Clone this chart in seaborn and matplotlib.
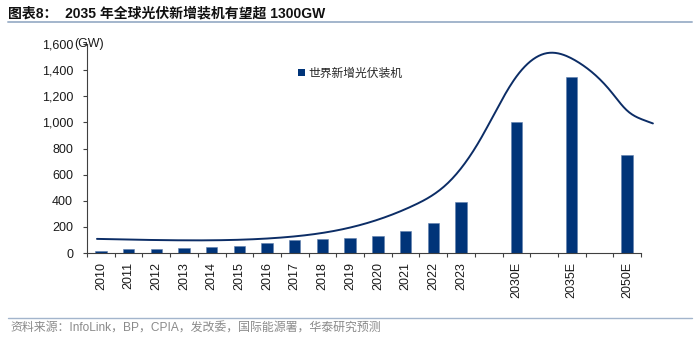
import numpy as np
import matplotlib
matplotlib.use("Agg")
import matplotlib.pyplot as plt
from matplotlib.patches import Patch
from matplotlib.lines import Line2D
from matplotlib.ticker import StrMethodFormatter
import seaborn as sns

# Category slots along the x axis (empty strings are spacer slots)
slots = ["2010", "2011", "2012", "2013", "2014", "2015", "2016", "2017",
         "2018", "2019", "2020", "2021", "2022", "2023",
         "", "2030E", "", "2035E", "", "2050E"]

# Annual new global PV installations (GW)
years = ["2010", "2011", "2012", "2013", "2014", "2015", "2016", "2017",
         "2018", "2019", "2020", "2021", "2022", "2023",
         "2030E", "2035E", "2050E"]
installs = [17, 30, 30, 38, 44, 53, 73, 99, 106, 116, 130, 170, 230, 390,
            1000, 1345, 750]

# Trend curve knots: slot coordinate and value (GW)
trend_x = [-0.14, 3.0, 6.5, 8.9, 11.3, 12.5, 13.7, 14.9,
           16.1, 17.2, 18.4, 19.0, 19.57, 19.93]
trend_y = [108, 97, 118, 190, 365, 530, 870, 1320,
           1530, 1465, 1240, 1090, 1020, 992]

title = "图表8：  2035 年全球光伏新增装机有望超 1300GW"
source = "资料来源：InfoLink，BP，CPIA，发改委，国际能源署，华泰研究预测"
legend_label = "世界新增光伏装机"

NAVY = "#003479"
LINE = "#0c2d66"
RULE = "#a3b5cc"

sns.set_theme(style="white")
plt.rcParams["font.family"] = ["Liberation Sans", "Noto Sans CJK SC", "DejaVu Sans"]


def natural_spline(xs, ys, num=400):
    """Natural cubic spline y(x) through the knots."""
    x = np.asarray(xs, float)
    y = np.asarray(ys, float)
    n = len(x)
    h = np.diff(x)
    A = np.zeros((n, n))
    b = np.zeros(n)
    A[0, 0] = A[-1, -1] = 1.0
    for i in range(1, n - 1):
        A[i, i - 1] = h[i - 1]
        A[i, i] = 2 * (h[i - 1] + h[i])
        A[i, i + 1] = h[i]
        b[i] = 3 * ((y[i + 1] - y[i]) / h[i] - (y[i] - y[i - 1]) / h[i - 1])
    c = np.linalg.solve(A, b)
    xx = np.linspace(x[0], x[-1], num)
    k = np.clip(np.searchsorted(x, xx) - 1, 0, n - 2)
    dx = xx - x[k]
    bb = (y[k + 1] - y[k]) / h[k] - h[k] * (2 * c[k] + c[k + 1]) / 3
    dd = (c[k + 1] - c[k]) / (3 * h[k])
    yy = y[k] + bb * dx + c[k] * dx ** 2 + dd * dx ** 3
    return xx, yy


W, H = 700, 342
fig = plt.figure(figsize=(W / 100, H / 100), dpi=100)
ax = fig.add_axes([87 / W, 1 - 253 / H, 554 / W, 209 / H])

positions = [slots.index(y) for y in years]
sns.barplot(x=positions, y=installs, native_scale=True, width=0.41,
            color=NAVY, saturation=1, edgecolor="#5f7fae", linewidth=0.4,
            ax=ax)

cx, cy = natural_spline(trend_x, trend_y)
sns.lineplot(x=cx, y=cy, sort=False, estimator=None, color=LINE,
             linewidth=1.4, ax=ax)
for ln in ax.lines:
    ln.set_clip_on(False)

ax.set_xlim(-0.5, len(slots) - 0.5)
ax.set_ylim(0, 1600)
ax.set_yticks(np.arange(0, 1601, 200))
ax.yaxis.set_major_formatter(StrMethodFormatter("{x:,.0f}"))
ax.set_xticks(range(len(slots)))
ax.set_xticklabels(slots, rotation=90)
ax.set_xticks(np.arange(-0.5, len(slots), 1), minor=True)
ax.tick_params(axis="x", which="major", length=0, pad=6.5,
               labelsize=9, labelcolor="#1a1a1a")
ax.tick_params(axis="x", which="minor", length=3, width=0.8,
               color="#404040", direction="out", bottom=True)
ax.tick_params(axis="y", which="major", length=3, width=0.8,
               color="#404040", direction="out", left=True, pad=7,
               labelsize=9, labelcolor="#1a1a1a")
ax.set_xlabel("")
ax.set_ylabel("")
for side in ["top", "right"]:
    ax.spines[side].set_visible(False)
for side in ["left", "bottom"]:
    ax.spines[side].set_color("#404040")
    ax.spines[side].set_linewidth(0.8)
ax.grid(False)

fig.text(74 / W, 1 - 44 / H, "(GW)", ha="left", va="center",
         fontsize=9, color="#1a1a1a")

ax.legend([Patch(facecolor=NAVY, edgecolor="none")], [legend_label],
          loc="center left",
          bbox_to_anchor=((298 - 87) / 554, (253 - 73) / 209),
          frameon=False, handlelength=0.6, handleheight=0.6,
          handletextpad=0.3, borderpad=0, borderaxespad=0,
          prop={"family": ["Noto Sans CJK SC"], "size": 8.5})

fig.text(8 / W, 1 - 13 / H, title, ha="left", va="center",
         fontsize=10, fontweight="bold", color="#111111",
         family=["Liberation Sans", "Noto Sans CJK SC"])
fig.add_artist(Line2D([8 / W, 692 / W], [1 - 22 / H] * 2, color=RULE,
                      linewidth=1.4, transform=fig.transFigure))
fig.add_artist(Line2D([8 / W, 692 / W], [1 - 318 / H] * 2, color=RULE,
                      linewidth=1.0, transform=fig.transFigure))
fig.text(10 / W, 1 - 329 / H, source, ha="left", va="center",
         fontsize=8.6, color="#8a8a8a",
         family=["Liberation Sans", "Noto Sans CJK SC"])

fig.savefig("out.png", dpi=100)
